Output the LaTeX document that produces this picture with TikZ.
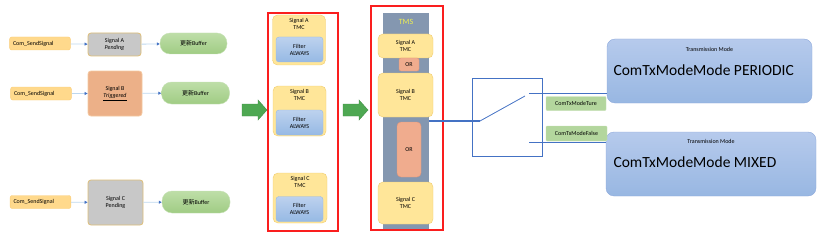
\documentclass[tikz,border=0pt]{standalone}
\usepackage{fontspec}
\setmainfont{Carlito}
\newfontfamily\cjk{Noto Sans CJK SC}
\usetikzlibrary{%
	calc,%
	arrows.meta,%
	positioning,%
}
\definecolor{csendfill}{RGB}{255, 217, 140}
\definecolor{csenddraw}{RGB}{250, 205, 120}
\definecolor{cpendfill}{RGB}{200, 200, 200}
\definecolor{cpenddraw}{RGB}{222, 190, 120}
\definecolor{ctrigfill}{RGB}{236, 176, 136}
\definecolor{ctrigdraw}{RGB}{244, 200, 160}
\definecolor{cbuftop}{RGB}{190, 222, 168}
\definecolor{cbufbot}{RGB}{160, 204, 132}
\definecolor{cbufdraw}{RGB}{197, 224, 180}
\definecolor{ctmcfill}{RGB}{255, 230, 153}
\definecolor{ctmcdraw}{RGB}{240, 204, 110}
\definecolor{cfiltertop}{RGB}{189, 210, 238}
\definecolor{cfilterbot}{RGB}{150, 185, 228}
\definecolor{ccolfill}{RGB}{132, 151, 176}
\definecolor{corfill}{RGB}{240, 172, 142}
\definecolor{cordraw}{RGB}{228, 150, 120}
\definecolor{cframe}{RGB}{250, 30, 30}
\definecolor{cswitch}{RGB}{68, 114, 196}
\definecolor{cmodetop}{RGB}{182, 202, 236}
\definecolor{cmodebot}{RGB}{152, 183, 226}
\definecolor{cmodedraw}{RGB}{143, 170, 220}
\definecolor{clink}{RGB}{189, 215, 238}
\definecolor{cgarrow}{RGB}{78, 168, 82}
\definecolor{ctms}{RGB}{240, 240, 80}
\tikzset{
	>=Triangle,%
	nodes={align=center},%
	sendnode/.style={%
			draw=csenddraw,%
			fill=csendfill,%
			rectangle,%
			rounded corners=2pt,%
			minimum width=60pt,%
			minimum height=13pt,%
			text width=54pt,%
			align=left},%
	signalnode/.style={%
			draw=cpenddraw,%
			fill=cpendfill,%
			rectangle,%
			thick,%
			rounded corners=3pt,%
			minimum width=54pt,%
			minimum height=45pt},%
	buffernode/.style={%
			draw=cbufdraw,%
			top color=cbuftop,%
			bottom color=cbufbot,%
			rectangle,%
			rounded corners=10pt,%
			minimum width=68pt,%
			minimum height=22pt},%
	tmcnode/.style={%
			draw=ctmcdraw,%
			fill=ctmcfill,%
			rectangle,%
			rounded corners=5pt,%
			minimum width=53pt,%
			minimum height=50pt},%
	filternode/.style={%
			draw=cfilterbot,%
			top color=cfiltertop,%
			bottom color=cfilterbot,%
			rectangle,%
			rounded corners=3pt,%
			minimum width=47pt,%
			minimum height=25pt},%
	ornode/.style={%
			draw=cordraw,%
			fill=corfill,%
			rectangle,%
			rounded corners=2pt},%
	framenode/.style={%
			draw=cframe,%
			line width=1.2pt,%
			rectangle},%
	modenode/.style={%
			draw=cmodedraw,%
			top color=cmodetop,%
			bottom color=cmodebot,%
			rectangle,%
			rounded corners=8pt},%
	casenode/.style={%
			draw=cbufdraw,%
			fill=cbufbot!80!white,%
			rectangle,%
			rounded corners=1pt,%
			minimum width=60pt,%
			minimum height=14pt},%
	blockarrow/.style={%
			draw=cgarrow!85!black,%
			fill=cgarrow},%
	link/.style={%
			draw=clink,%
			thick,%
			-{Triangle[color=cswitch, length=3pt, width=3pt]}},%
	wire/.style={%
			draw=cswitch,%
			thick},%
}

\begin{document}
\begin{tikzpicture}[x=1pt, y=-1pt, nodes={font={\fontsize{6}{7}\selectfont}}]%
	\useasboundingbox (0,0) rectangle (832,246);

	% sending side
	\node[sendnode] (sa) at (40,43.5) {Com\_SendSignal};
	\node[sendnode] (sb) at (41,93.5) {Com\_SendSignal};
	\node[sendnode] (sc) at (40.5,202) {Com\_SendSignal};
	\node[signalnode, minimum height=23pt, minimum width=53pt] (pa) at (114.5,44.5) {Signal A\\\textit{Pending}};
	\node[signalnode, draw=ctrigdraw, fill=ctrigfill] (pb) at (115,93.5) {Signal B\\\underline{\textit{Triggered}}};
	\node[signalnode, minimum width=55pt] (pc) at (115.5,202.5) {Signal C\\Pending};
	\node[buffernode, minimum height=21pt, minimum width=67pt] (ba) at (193.5,43.5) {{\cjk 更新}Buffer};
	\node[buffernode] (bb) at (195.5,93) {{\cjk 更新}Buffer};
	\node[buffernode] (bc) at (196,202) {{\cjk 更新}Buffer};

	\draw[link] (sa) to (pa);
	\draw[link] (sb) to (pb);
	\draw[link] (sc) to (pc);
	\draw[link] (pa) to (ba);
	\draw[link] (pb) to (bb);
	\draw[link] (pc) to (bc);

	% filter column
	\coordinate (ga) at (242,110);
	\draw[blockarrow] ($(ga)+(0,-6)$) -- ++(16,0) -- ++(0,-4) -- ++(9,10) -- ++(-9,10) -- ++(0,-4) -- ++(-16,0) -- cycle;
	\node[framenode, minimum width=70pt, minimum height=218pt] (fa) at (303,122) {};
	\node[tmcnode] (ta) at (299,40) {};
	\node[anchor=north] (tla) at (ta.north) {Signal A\\TMC};
	\node[filternode] (fla) at (299.5,49.5) {Filter\\ALWAYS};
	\node[tmcnode] (tb) at (299.5,111) {};
	\node[anchor=north] (tlb) at (tb.north) {Signal B\\TMC};
	\node[filternode] (flb) at (299.5,122.5) {Filter\\ALWAYS};
	\node[tmcnode, minimum width=54pt] (tc) at (300,198) {};
	\node[anchor=north] (tlc) at (tc.north) {Signal C\\TMC};
	\node[filternode] (flc) at (299.5,209) {Filter\\ALWAYS};

	% TMS column
	\coordinate (gb) at (343,110);
	\draw[blockarrow] ($(gb)+(0,-6)$) -- ++(16,0) -- ++(0,-4) -- ++(9,10) -- ++(-9,10) -- ++(0,-4) -- ++(-16,0) -- cycle;
	\node[framenode, minimum width=72pt, minimum height=224pt] (fb) at (407,118) {};
	\node[fill=ccolfill, minimum width=46pt, minimum height=216pt] (tms) at (406,121) {};
	\node[text=ctms, font={\fontsize{8}{9}\selectfont}] (tmsl) at (406,22) {TMS};
	\node[tmcnode, minimum width=55pt, minimum height=24pt] (ma) at (405.5,46) {Signal A\\TMC};
	\node[ornode, minimum width=20pt, minimum height=13pt] (ora) at (409,64.5) {OR};
	\node[tmcnode, minimum width=55pt, minimum height=44pt] (mb) at (405.5,95) {Signal B\\TMC};
	\node[ornode, rounded corners=4pt, minimum width=24pt, minimum height=55pt] (orb) at (409,149.5) {OR};
	\node[tmcnode, minimum width=55pt, minimum height=42pt] (mc) at (405.5,203) {Signal C\\TMC};

	% switch
	\node[draw=cswitch, minimum width=70pt, minimum height=78pt] (sw) at (507,117) {};
	\coordinate (pivot) at (480,121);
	\coordinate (lever) at (525,96);
	\coordinate (upc) at (529,93);
	\coordinate (loc) at (529,142);
	\node[modenode, minimum width=205pt, minimum height=64pt] (ma1) at (709.5,71) {};
	\node (mt1) at (709.5,49) {Transmission Mode};
	\node[anchor=west, font={\fontsize{15.5}{17}\selectfont}] (mx1) at (610,70) {ComTxModeMode PERIODIC};
	\node[modenode, minimum width=210pt, minimum height=64pt] (ma2) at (711,164) {};
	\node (mt2) at (711,141) {Transmission Mode};
	\node[anchor=west, font={\fontsize{15.5}{17}\selectfont}] (mx2) at (610,162) {ComTxModeMode MIXED};
	\node[casenode] (ct) at (576,103.5) {ComTxModeTure};
	\node[casenode, minimum width=61pt, minimum height=15pt] (cf) at (576.5,133.5) {ComTxModeFalse};

	\draw[wire, line width=1.2pt] (pivot -| tms.east) to (pivot);
	\draw[wire] (pivot) to (lever);
	\draw[wire] (upc) to (upc -| ma1.west);
	\draw[wire] (loc) to (loc -| ma2.west);
\end{tikzpicture}
\end{document}
